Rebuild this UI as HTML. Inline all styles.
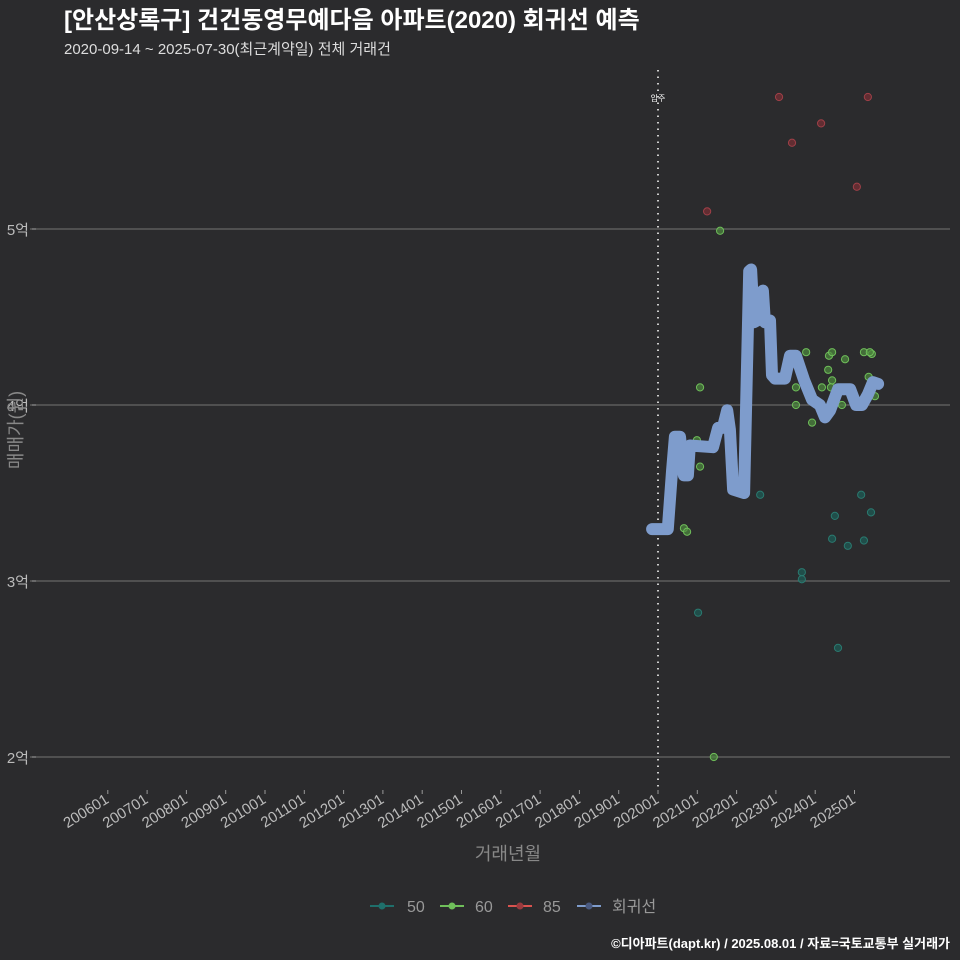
<!DOCTYPE html>
<html><head><meta charset="utf-8">
<style>
html,body{margin:0;padding:0;background:#2b2b2d;}
svg{display:block;font-family:"Liberation Sans","Noto Sans CJK KR",sans-serif;}
</style></head>
<body>
<svg id="chart" width="960" height="960" viewBox="0 0 960 960">
<rect x="0" y="0" width="960" height="960" fill="#2b2b2d"/>
<text x="64" y="28" fill="#ffffff" font-size="24" font-weight="bold">[안산상록구] 건건동영무예다음 아파트(2020) 회귀선 예측</text>
<text x="64" y="54" fill="#dddddd" font-size="15">2020-09-14 ~ 2025-07-30(최근계약일) 전체 거래건</text>
<g id="grid"></g>
<g id="xaxis"></g>
<g id="marks"></g>
<text transform="translate(22,430) rotate(-90)" text-anchor="middle" fill="#888" font-size="18">매매가(원)</text>
<text x="508" y="860" text-anchor="middle" fill="#888" font-size="18">거래년월</text>
<g>
  <g><line x1="370" y1="906" x2="394" y2="906" stroke="#1f6f6b" stroke-width="2"/><circle cx="382" cy="906" r="3.5" fill="#1f6f6b"/><text x="407" y="912" fill="#999" font-size="16">50</text></g>
  <g><line x1="440" y1="906" x2="464" y2="906" stroke="#6fbf5a" stroke-width="2"/><circle cx="452" cy="906" r="3.5" fill="#6fbf5a"/><text x="475" y="912" fill="#999" font-size="16">60</text></g>
  <g><line x1="508" y1="906" x2="532" y2="906" stroke="#d9534f" stroke-width="2"/><circle cx="520" cy="906" r="3.5" fill="#9a3a3e"/><text x="543" y="912" fill="#999" font-size="16">85</text></g>
  <g><line x1="577" y1="906" x2="601" y2="906" stroke="#7e9ccc" stroke-width="2"/><circle cx="589" cy="906" r="3.5" fill="#4a5a80"/><text x="612" y="912" fill="#999" font-size="16">회귀선</text></g>
</g>
<text x="950" y="948" text-anchor="end" fill="#ffffff" font-size="13" font-weight="bold">©디아파트(dapt.kr) / 2025.08.01 / 자료=국토교통부 실거래가</text>
</svg>
<script>
const yTicks=[2,3,4,5];
const yTickLabels=["2억","3억","4억","5억"];
const xTickYears=[2006,2007,2008,2009,2010,2011,2012,2013,2014,2015,2016,2017,2018,2019,2020,2021,2022,2023,2024,2025];
const xTickLabels=["200601","200701","200801","200901","201001","201101","201201","201301","201401","201501","201601","201701","201801","201901","202001","202101","202201","202301","202401","202501"];
const moveInYear=2020.0;
const s50x=[2022.60,2023.66,2023.66,2021.02,2024.50,2024.43,2024.83,2025.17,2025.42,2025.24,2024.58];
const s50y=[3.49,3.05,3.01,2.82,3.37,3.24,3.20,3.49,3.39,3.23,2.62];
const s60x=[2021.58,2021.07,2020.99,2021.07,2020.66,2020.74,2021.42,2023.77,2023.51,2023.51,2023.92,2024.17,2024.35,2024.43,2024.33,2024.43,2024.40,2024.76,2024.68,2025.24,2025.44,2025.36,2025.52,2025.39];
const s60y=[4.99,4.10,3.80,3.65,3.30,3.28,2.00,4.30,4.10,4.00,3.90,4.10,4.28,4.30,4.20,4.14,4.10,4.26,4.00,4.30,4.29,4.16,4.05,4.30];
const s85x=[2021.25,2023.08,2023.41,2024.15,2025.06,2025.34];
const s85y=[5.10,5.75,5.49,5.60,5.24,5.75];
const regX=[2019.85,2020.25,2020.36,2020.43,2020.56,2020.66,2020.76,2020.81,2021.40,2021.53,2021.65,2021.76,2021.83,2021.91,2022.19,2022.32,2022.37,2022.44,2022.60,2022.67,2022.72,2022.85,2022.90,2022.98,2023.23,2023.36,2023.51,2023.72,2023.92,2024.12,2024.25,2024.38,2024.58,2024.89,2025.04,2025.19,2025.34,2025.47,2025.60];
const regY=[3.295,3.295,3.63,3.82,3.82,3.60,3.60,3.77,3.76,3.87,3.87,3.97,3.86,3.52,3.50,4.76,4.77,4.47,4.49,4.65,4.47,4.48,4.17,4.15,4.15,4.28,4.28,4.14,4.03,4.00,3.93,3.97,4.09,4.09,4.00,4.00,4.06,4.13,4.12];

const NS="http://www.w3.org/2000/svg";
const xs=y=>658+(y-2020)*39.3;
const ys=v=>405-(v-4)*176;
function mk(tag,attrs,parent){const e=document.createElementNS(NS,tag);for(const k in attrs)e.setAttribute(k,attrs[k]);parent.appendChild(e);return e;}
const grid=document.getElementById('grid'),xaxis=document.getElementById('xaxis'),marks=document.getElementById('marks');
yTicks.forEach((v,i)=>{
  const l=mk('line',{x1:30,x2:950,y1:ys(v),y2:ys(v),stroke:'#666','stroke-width':1.2},grid);
  
  
  const tk=mk('line',{x1:32,x2:36,y1:ys(v),y2:ys(v),stroke:'#999'},grid);
  
  
  const t=mk('text',{x:29,y:ys(v)+6,'text-anchor':'end',fill:'#bbb','font-size':15},grid);
  t.textContent=yTickLabels[i];
  
  
});
xTickYears.forEach((yr,i)=>{
  const x=xs(yr);
  const tk=mk('line',{x1:x,x2:x,y1:790,y2:794,stroke:'#999'},xaxis);
  
  
  const t=mk('text',{transform:`translate(${x+2},${802}) rotate(-32)`,'text-anchor':'end',fill:'#bbb','font-size':15},xaxis);
  t.textContent=xTickLabels[i];
  
  
});
const vl=mk('line',{x1:xs(moveInYear),x2:xs(moveInYear),y1:70,y2:790,stroke:'#ccc','stroke-width':2,'stroke-dasharray':'1.5 5'},marks);


const vt=mk('text',{x:xs(moveInYear),y:101,'text-anchor':'middle',fill:'#fff','font-size':8},marks);
vt.textContent='입주';


function pts(X,Y,fill,stroke,name){
  X.forEach((x,i)=>{
    const c=mk('circle',{cx:xs(x),cy:ys(Y[i]),r:3.6,fill:fill,stroke:stroke,'stroke-width':1,'fill-opacity':0.7},marks);
    
    
  });
}
pts(s50x,s50y,'#1d5e57','#2a7a70','point-50');
pts(s60x,s60y,'#4f8a3e','#6fbf5a','point-60');
pts(s85x,s85y,'#7a2f35','#a04048','point-85');
const d=regX.map((x,i)=>(i?'L':'M')+xs(x).toFixed(1)+','+ys(regY[i]).toFixed(1)).join(' ');
const p=mk('path',{d:d,fill:'none',stroke:'#7e9ccc','stroke-width':12,'stroke-linejoin':'round','stroke-linecap':'round'},marks);


</script>
</body></html>
